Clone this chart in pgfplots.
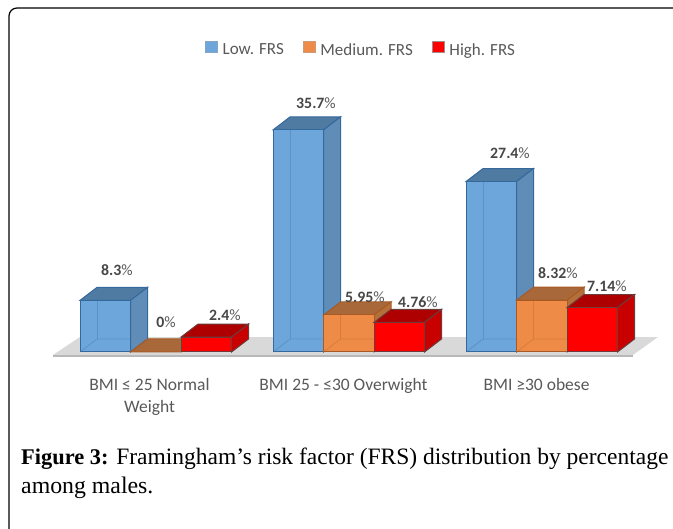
\documentclass[border=0pt]{standalone}
\usepackage{pgfplots}
\pgfplotsset{compat=1.18}
\usepackage{fontspec}
\setmainfont{Carlito}
\newfontfamily\capfont{Liberation Serif}
\definecolor{lab}{HTML}{595959}
\definecolor{blF}{HTML}{6CA6DB}
\definecolor{blT}{HTML}{4F7BA3}
\definecolor{blS}{HTML}{5F8DB8}
\definecolor{blE}{HTML}{35689B}
\definecolor{orF}{HTML}{EE8B47}
\definecolor{orT}{HTML}{A9683A}
\definecolor{orS}{HTML}{B5703A}
\definecolor{orE}{HTML}{A85A24}
\definecolor{reF}{HTML}{FF0000}
\definecolor{reT}{HTML}{AE0000}
\definecolor{reS}{HTML}{C80000}
\definecolor{reE}{HTML}{6E3A3A}
% x in pixels, y in percent: 6.22 px per percent; depth 17 px, 13 px
\newcommand{\threeDbar}[7]{%
 % #1 left x, #2 value, #3 colour prefix, #4 label number, #5 label x, #6 label y, #7 inner edges opacity
 \pgfmathsetmacro{\xa}{#1}\pgfmathsetmacro{\xb}{#1+50.5}\pgfmathsetmacro{\xm}{#1+25.25}
 \pgfmathsetmacro{\xc}{#1+17}\pgfmathsetmacro{\xd}{#1+67.5}
 \pgfmathsetmacro{\yb}{#2+2.09}
 \addplot[fill=#3T,draw=#3E,line width=1pt,forget plot] coordinates {(\xa,#2)(\xc,\yb)(\xd,\yb)(\xb,#2)} -- cycle;
 \addplot[fill=#3S,draw=#3E,line width=1pt,forget plot] coordinates {(\xb,0)(\xd,2.09)(\xd,\yb)(\xb,#2)} -- cycle;
 \addplot[ybar,bar width=50.5pt,bar shift=0pt,fill=#3F,draw=#3E,line width=1pt,forget plot] coordinates {(\xm,#2)};
 \addplot[draw=#3E,line width=0.8pt,opacity=#7,forget plot] coordinates {(\xa,0)(\xc,2.09)(\xb,2.09)};
 \addplot[draw=#3E,line width=0.8pt,opacity=#7,forget plot] coordinates {(\xc,2.09)(\xc,#2)};
 \node[font=\fontsize{15.8}{17}\selectfont,text=black!72] at (axis cs:#5,#6) {\textbf{#4}{\color{lab}\%}};
}
\begin{document}
\begin{tikzpicture}[x=1pt,y=1pt]
\useasboundingbox (0,0) rectangle (673,529);
\fill[white] (0,0) rectangle (673,529);
\draw[black,line width=1.2pt,rounded corners=8pt] (9,0) -- (9,521) -- (673,521);
\begin{axis}[
  at={(0,0)},anchor=south west,scale only axis,width=673pt,height=529pt,
  xmin=0,xmax=673,ymin=-28.457,ymax=56.592,clip=false,
  axis line style={draw=none},major tick length=0pt,
  ytick=\empty,xtick={149.5,343.5,536.5},
  xticklabels={{BMI ≤ 25 Normal\\Weight},{BMI 25 - ≤30 Overwight},{BMI ≥30 obese}},
  xticklabel style={yshift=154pt,align=center,text=lab,font=\fontsize{17.5}{22}\selectfont},
  legend columns=3,
  legend style={at={(axis cs:361,48.6)},anchor=center,draw=none,fill=none,
    font=\fontsize{17}{18}\selectfont,text=lab,
    /tikz/every odd column/.append style={column sep=3pt},
    /tikz/every even column/.append style={column sep=17pt}},
  legend image code/.code={\draw[#1,line width=0.6pt] (0,-2.5pt) rectangle (12pt,9pt);},
]
\addlegendimage{fill=blF,draw=blE!60}\addlegendentry{Low. FRS}
\addlegendimage{fill=orF,draw=orE!60}\addlegendentry{Medium. FRS}
\addlegendimage{fill=reF,draw=reE!60}\addlegendentry{High. FRS}
\addplot[fill=black!15,draw=none,forget plot] coordinates {(53,-0.48)(80,2.41)(658,2.41)(633,-0.48)} -- cycle;
\addplot[fill=black!28,draw=none,forget plot] coordinates {(53,-0.48)(633,-0.48)(633,-0.80)(53,-0.80)} -- cycle;
\threeDbar{80}{8.3}{bl}{8.3}{117}{13.1}{0.3}
\threeDbar{130.5}{0}{or}{0}{166}{4.8}{0}
\threeDbar{181}{2.4}{re}{2.4}{225}{5.95}{0}
\threeDbar{273}{35.7}{bl}{35.7}{316}{40.0}{0.3}
\threeDbar{323.5}{5.95}{or}{5.95}{365}{8.8}{0.3}
\threeDbar{374}{4.76}{re}{4.76}{418}{8.0}{0}
\threeDbar{466}{27.4}{bl}{27.4}{510}{32.0}{0.3}
\threeDbar{516.5}{8.32}{or}{8.32}{558}{12.7}{0.3}
\threeDbar{567}{7.14}{re}{7.14}{607}{10.6}{0}
\end{axis}
\node[anchor=west,inner sep=0pt,font=\capfont\fontsize{23.5}{26}\selectfont] at (21,529-459) {{\fontsize{22.4}{26}\selectfont\bfseries Figure 3:} Framingham’s risk factor (FRS) distribution by percentage};
\node[anchor=west,inner sep=0pt,font=\capfont\fontsize{23.8}{26}\selectfont] at (21,529-488) {among males.};
\end{tikzpicture}
\end{document}
